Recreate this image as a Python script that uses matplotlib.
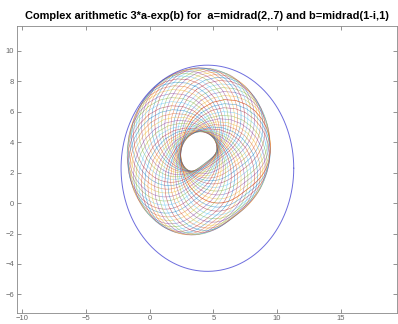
import numpy as np
import matplotlib
matplotlib.use("Agg")
import matplotlib.pyplot as plt

# Discs: a = midrad(2, .7), b = midrad(1-i, 1)
a_mid, a_rad = 2.0, 0.7
b_mid, b_rad = 1 - 1j, 1.0
n_pts = 50

title = "Complex arithmetic 3*a-exp(b) for  a=midrad(2,.7) and b=midrad(1-i,1)"
xticks = [-10, -5, 0, 5, 10, 15]
yticks = [-6, -4, -2, 0, 2, 4, 6, 8, 10]
line_colors = ["#0072BD", "#D95319", "#EDB120", "#7E2F8E",
               "#77AC30", "#4DBEEE", "#A2142F"]

plt.rcParams['font.family'] = ['Liberation Sans', 'DejaVu Sans']

fig = plt.figure(figsize=(3.98, 3.24), dpi=100)
ax = fig.add_axes([17/398, 11.3/324, 380/398, 287/324])

phi = np.linspace(0, 2*np.pi, n_pts)
circ = np.exp(1j*phi)
A = a_mid + a_rad*circ
B = b_mid + b_rad*circ

# Boundary images 3*a_k - exp(dB) for each boundary point a_k
for k, ak in enumerate(A):
    z = 3*ak - np.exp(B)
    ax.plot(z.real, z.imag, color=line_colors[(k+1) % 7], lw=0.45, alpha=0.55)

# Disc enclosure from midpoint-radius arithmetic
e_mid = np.exp(b_mid)
res_mid = 3*a_mid - e_mid
res_rad = 3*a_rad + abs(e_mid)*(np.exp(b_rad) - 1)
t = np.linspace(0, 2*np.pi, 400)
zc = res_mid + res_rad*np.exp(1j*t)
ax.plot(zc.real, zc.imag, color="#3030d0", lw=0.7, alpha=0.7)

ax.set_xlim(-10.4, 19.4)
ax.set_ylim(-7.2, 11.65)
ax.set_xticks(xticks)
ax.set_yticks(yticks)
ax.tick_params(direction='in', length=3, width=0.5, colors='#666666',
               labelsize=5.5, top=True, right=True, pad=2)
for s in ax.spines.values():
    s.set_color('#888888')
    s.set_linewidth(0.6)
ax.set_title(title, fontsize=7.9, fontweight='bold', pad=5)

fig.savefig("out.png", dpi=100)
